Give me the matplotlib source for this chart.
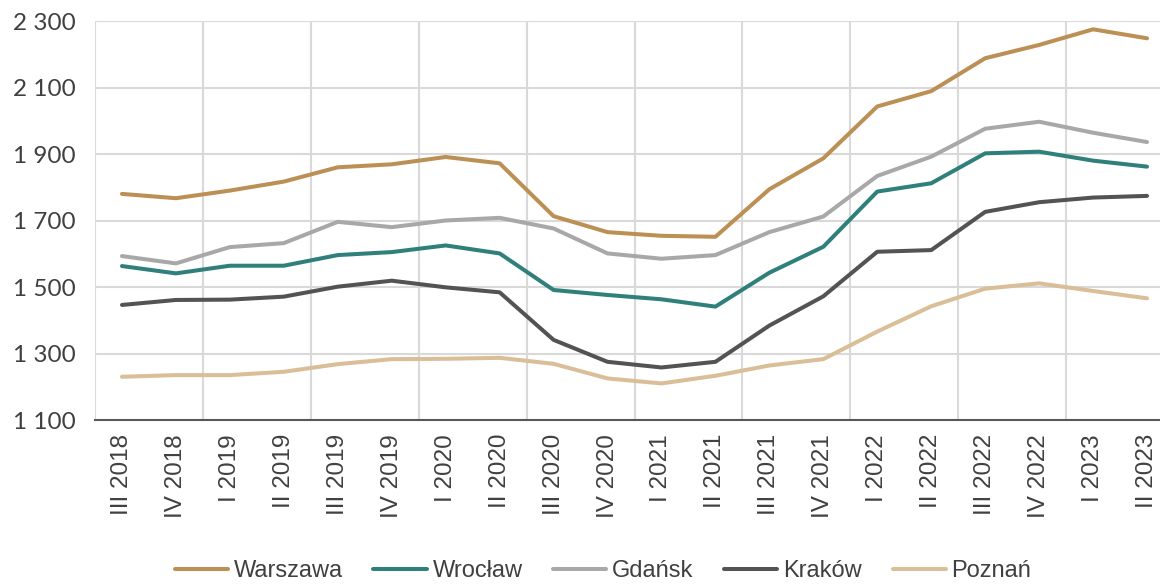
import matplotlib
matplotlib.use("Agg")
import matplotlib.pyplot as plt
import numpy as np
from matplotlib.ticker import FuncFormatter, FixedLocator

quarters = ["III 2018", "IV 2018", "I 2019", "II 2019", "III 2019", "IV 2019",
            "I 2020", "II 2020", "III 2020", "IV 2020", "I 2021", "II 2021",
            "III 2021", "IV 2021", "I 2022", "II 2022", "III 2022", "IV 2022",
            "I 2023", "II 2023"]

warszawa = [1780, 1767, 1790, 1817, 1860, 1869, 1891, 1872, 1713, 1665, 1654, 1651,
            1794, 1887, 2043, 2089, 2188, 2228, 2275, 2248]
wroclaw = [1563, 1541, 1564, 1564, 1596, 1605, 1625, 1601, 1491, 1476, 1463, 1441,
           1543, 1621, 1787, 1812, 1902, 1907, 1880, 1862]
gdansk = [1593, 1571, 1620, 1632, 1696, 1680, 1700, 1708, 1676, 1601, 1585, 1596,
          1665, 1712, 1834, 1892, 1976, 1997, 1964, 1936]
krakow = [1446, 1461, 1462, 1471, 1501, 1519, 1499, 1484, 1341, 1275, 1258, 1275,
          1384, 1472, 1606, 1611, 1726, 1755, 1769, 1774]
poznan = [1230, 1235, 1235, 1245, 1268, 1283, 1284, 1287, 1269, 1225, 1210, 1233,
          1264, 1283, 1366, 1442, 1495, 1511, 1488, 1466]

series = [("Warszawa", warszawa, "#BC8F55"),
          ("Wrocław", wroclaw, "#2F7F7B"),
          ("Gdańsk", gdansk, "#A8A8A8"),
          ("Kraków", krakow, "#535353"),
          ("Poznań", poznan, "#D9BE98")]

yticks = [1100, 1300, 1500, 1700, 1900, 2100, 2300]

fig = plt.figure(figsize=(11.6, 5.86), dpi=100)
ax = fig.add_axes([95/1160, 1-420/586, (1174-95)/1160, (420-21)/586])

x = np.arange(len(quarters))
for name, vals, col in series:
    ax.plot(x, vals, color=col, lw=2.9, label=name, solid_capstyle="round",
            solid_joinstyle="round", clip_on=False)

ax.set_xlim(-0.5, len(quarters) - 0.5)
ax.set_ylim(1100, 2300)
ax.set_yticks(yticks)
ax.yaxis.set_major_formatter(FuncFormatter(lambda v, p: f"{int(v):,}".replace(",", " ")))
ax.set_xticks(x)
ax.set_xticklabels(quarters, rotation=90, family=["Liberation Sans", "DejaVu Sans"],
                   fontsize=17.5, color="#404040")
ax.xaxis.set_minor_locator(FixedLocator(np.arange(-0.5, len(quarters), 2)))
for lab in ax.get_yticklabels():
    lab.set_family(["Lato", "DejaVu Sans"])
    lab.set_fontsize(17.5)
    lab.set_color("#404040")

ax.grid(axis="y", which="major", color="#D9D9D9", lw=1.5)
ax.grid(axis="x", which="minor", color="#D9D9D9", lw=1.5)
ax.set_axisbelow(True)
ax.tick_params(axis="both", which="both", length=0)
ax.tick_params(axis="y", pad=14)
ax.tick_params(axis="x", pad=10)
for s in ["top", "right", "left"]:
    ax.spines[s].set_visible(False)
ax.spines["bottom"].set_color("#595959")
ax.spines["bottom"].set_linewidth(1.5)

leg = fig.legend(loc="center", bbox_to_anchor=(603/1160, 1-571/586), ncol=5,
                 frameon=False, handlelength=2.25, handletextpad=0.25, columnspacing=1.3,
                 prop={"family": ["Liberation Sans", "DejaVu Sans"], "size": 17})
for t in leg.get_texts():
    t.set_color("#404040")

fig.savefig("out.png", dpi=100)
